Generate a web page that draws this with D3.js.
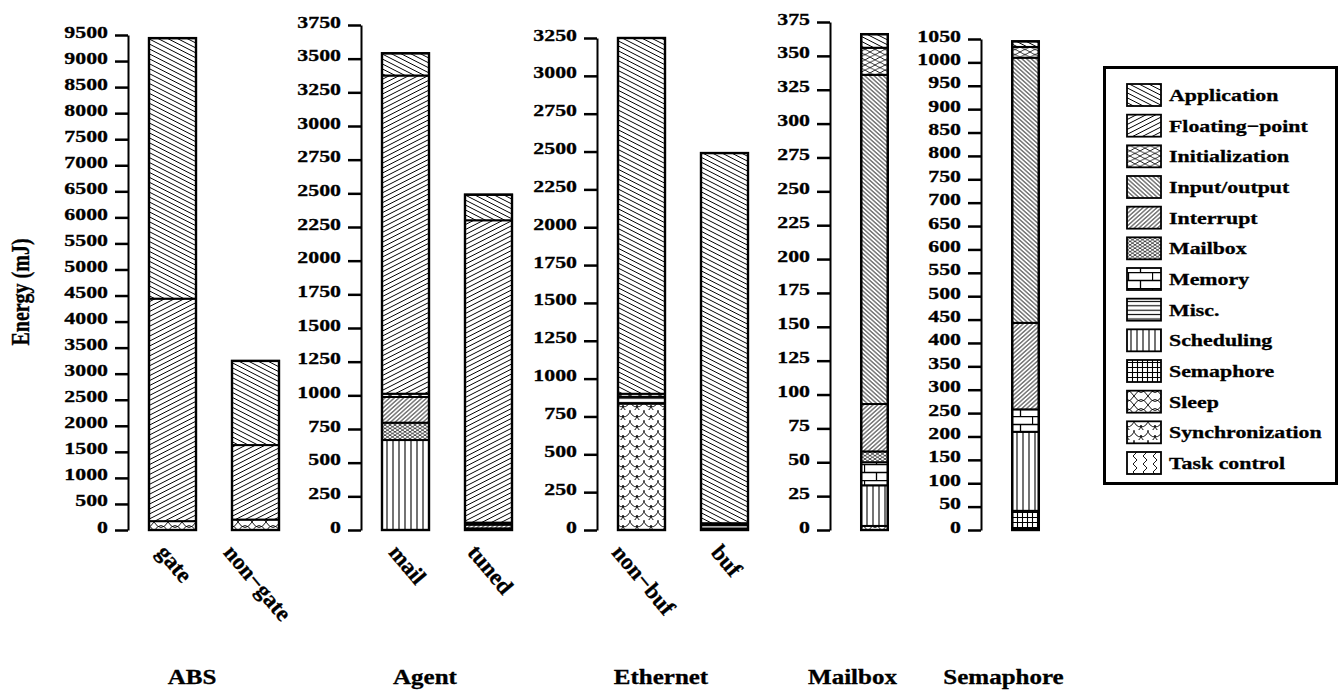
<!DOCTYPE html>
<html>
<head>
<meta charset="utf-8">
<script src="https://cdn.jsdelivr.net/npm/d3@7"></script>
<style>
  body { margin: 0; background: #fff; }
  text { font-family: "Liberation Serif", "Times New Roman", serif; font-weight: bold; fill: #000;
         stroke: #000; stroke-width: 0.3px; }
</style>
</head>
<body>
<svg id="chart" width="1339" height="692"></svg>
<script>
// Benchmarks (panels) and their tick settings.
const benchmarks = ["ABS", "Agent", "Ethernet", "Mailbox", "Semaphore"];
const tickMax = [9500, 3750, 3250, 375, 1050];
const tickStep = [500, 250, 250, 25, 50];

// Bars, in drawing order, and the panel that each one belongs to.
const runs = ["gate", "non−gate", "mail", "tuned", "non−buf", "buf", "mailbox", "semaphore"];
const runLabels = ["gate", "non−gate", "mail", "tuned", "non−buf", "buf", "", ""];
const runBenchmark = ["ABS", "ABS", "Agent", "Agent", "Ethernet", "Ethernet", "Mailbox", "Semaphore"];

// Energy components (legend order).
const components = ["Application", "Floating−point", "Initialization", "Input/output", "Interrupt",
  "Mailbox", "Memory", "Misc.", "Scheduling", "Semaphore", "Sleep", "Synchronization", "Task control"];

// Energy (mJ) of each component, one value per bar in `runs` order.
const application     = [5000, 1615, 165, 190, 2350, 2445, 10, 12];
const floatingPoint   = [4270, 1430, 2363, 2245, 0, 0, 0, 0];
const initialization  = [0, 0, 24, 15, 20, 10, 20, 23];
const inputOutput     = [0, 0, 0, 0, 0, 0, 243, 567];
const interrupt       = [0, 0, 191, 28, 0, 0, 35, 185];
const mailbox         = [0, 0, 129, 0, 0, 0, 8, 0];
const memory          = [0, 0, 0, 0, 0, 0, 17, 48];
const misc            = [0, 0, 0, 0, 45, 25, 0, 0];
const scheduling      = [0, 0, 668, 12, 0, 10, 30, 169];
const semaphore       = [0, 0, 0, 0, 0, 0, 0, 37];
const sleep           = [170, 200, 0, 0, 0, 0, 3, 4];
const synchronization = [0, 0, 0, 0, 835, 0, 0, 0];
const taskControl     = [0, 0, 0, 0, 0, 0, 0, 0];

const componentValues = [application, floatingPoint, initialization, inputOutput, interrupt,
  mailbox, memory, misc, scheduling, semaphore, sleep, synchronization, taskControl];

// layout
const baseY = 530;
const axisX = [128, 361, 597, 830, 981];
const topY = [35, 25, 38, 22, 39];
const barW = 47, barGap = 36, firstOffset = 21;
const stretch = 1.25;   // the original figure is stretched horizontally

const svg = d3.select("#chart");
const defs = svg.append("defs");

// ---- fill patterns ----
function hatch(id, angle, s, w) {
  const p = defs.append("pattern").attr("id", id)
    .attr("patternUnits", "userSpaceOnUse")
    .attr("width", s).attr("height", s)
    .attr("patternTransform", `rotate(${angle})`);
  p.append("rect").attr("width", s).attr("height", s).attr("fill", "#fff");
  p.append("line").attr("x1", 0).attr("x2", s).attr("y1", s / 2).attr("y2", s / 2)
    .attr("stroke", "#000").attr("stroke-width", w);
}
function cross(id, W, H, w) {
  const p = defs.append("pattern").attr("id", id)
    .attr("patternUnits", "userSpaceOnUse").attr("width", W).attr("height", H);
  p.append("rect").attr("width", W).attr("height", H).attr("fill", "#fff");
  p.append("path")
    .attr("d", `M${-W},${-H}L${2 * W},${2 * H}M${-W},${2 * H}L${2 * W},${-H}M0,${-H}L${2*W},${H}M${-W},0L${W},${2*H}M0,${2*H}L${2*W},0M${-W},${H}L${W},${-H}`)
    .attr("stroke", "#000").attr("stroke-width", w).attr("fill", "none");
}
function pathPattern(id, W, H, d, w) {
  const p = defs.append("pattern").attr("id", id)
    .attr("patternUnits", "userSpaceOnUse").attr("width", W).attr("height", H);
  p.append("rect").attr("width", W).attr("height", H).attr("fill", "#fff");
  p.append("path").attr("d", d).attr("stroke", "#000").attr("stroke-width", w).attr("fill", "none");
}

hatch("p0", 27, 4.4, 0.9);    // Application
hatch("p1", -27, 4.4, 0.9);   // Floating-point
cross("p2", 10, 5.2, 0.8);    // Initialization
hatch("p3", 42, 3.1, 0.8);    // Input/output
hatch("p4", -42, 3.1, 0.8);   // Interrupt
cross("p5", 5, 3.4, 0.7);     // Mailbox
pathPattern("p6", 24, 16, "M0,0.5H24M0,8.5H24M0.5,0V8.5M12.5,8.5V16", 1.3);   // Memory
pathPattern("p7", 4, 4.4, "M0,2.2H4", 1.1);                                  // Misc.
pathPattern("p8", 6, 6, "M3,0V6", 1.1);                                       // Scheduling
pathPattern("p9", 5, 5, "M2.5,0V5M0,2.5H5", 1.1);                             // Semaphore
pathPattern("p10", 14, 9, "M0,0Q7,11 14,0M0,9Q7,-2 14,9", 0.9);               // Sleep
pathPattern("p11", 14, 10, "M0,0A7,7 0 0 0 14,0M-7,5A7,7 0 0 0 7,5M7,5A7,7 0 0 0 21,5M0,10A7,7 0 0 0 14,10", 0.9); // Synchronization
pathPattern("p12", 10, 8, "M3,0L7,4L3,8", 0.9);                               // Task control

// ---- stacked data ----
const table = runs.map((r, i) => {
  const row = { run: r, bench: runBenchmark[i], label: runLabels[i] };
  components.forEach((c, j) => row[c] = componentValues[j][i]);
  return row;
});
const stackOrder = components.slice().reverse();   // bottom to top
const series = d3.stack().keys(stackOrder)(table);

function stretchText(sel, x, y) {
  sel.attr("transform", `translate(${x},${y}) scale(${stretch},1)`);
}

// ---- panels ----
benchmarks.forEach((bench, k) => {
  const panelRuns = runs.filter((r, i) => runBenchmark[i] === bench);
  const n = panelRuns.length;
  const x0 = axisX[k] + firstOffset;
  const x = d3.scaleBand()
    .domain(panelRuns)
    .range([x0, x0 + n * barW + (n - 1) * barGap])
    .paddingInner(barGap / (barW + barGap))
    .paddingOuter(0);
  const y = d3.scaleLinear().domain([0, tickMax[k]]).range([baseY, topY[k]]);

  const g = svg.append("g");

  // y axis
  const axis = d3.axisLeft(y)
    .tickValues(d3.range(0, tickMax[k] + 1, tickStep[k]))
    .tickSize(13).tickSizeOuter(0).tickFormat(d3.format("d"));
  const ax = g.append("g").attr("transform", `translate(${axisX[k]},0)`).call(axis);
  ax.select(".domain").attr("stroke-width", 2);
  ax.selectAll(".tick line").attr("stroke-width", 2.5);
  ax.selectAll(".tick text")
    .attr("x", null).attr("dy", null)
    .attr("font-size", 17.5).attr("font-family", null)
    .attr("text-anchor", "end")
    .each(function () { stretchText(d3.select(this), -20, 2); });

  // bar segments
  series.forEach((s) => {
    const pid = "p" + components.indexOf(s.key);
    g.append("g").selectAll("rect")
      .data(s.filter(d => d.data.bench === bench && d[1] - d[0] > 0))
      .join("rect")
      .attr("x", d => x(d.data.run))
      .attr("width", x.bandwidth())
      .attr("y", d => y(d[1]))
      .attr("height", d => y(d[0]) - y(d[1]))
      .attr("fill", `url(#${pid})`)
      .attr("stroke", "#000")
      .attr("stroke-width", 2);
  });

  // bar outlines
  const totals = table.filter(d => d.bench === bench);
  g.append("g").selectAll("rect")
    .data(totals)
    .join("rect")
    .attr("x", d => x(d.run))
    .attr("width", x.bandwidth())
    .attr("y", d => y(d3.sum(components, c => d[c])))
    .attr("height", d => baseY - y(d3.sum(components, c => d[c])))
    .attr("fill", "none").attr("stroke", "#000").attr("stroke-width", 2.4);

  // rotated run labels
  g.append("g").selectAll("text")
    .data(totals.filter(d => d.label))
    .join("text")
    .attr("font-size", 23)
    .attr("text-anchor", "middle")
    .attr("dy", "0.33em")
    .text(d => d.label)
    .attr("transform", function (d) {
      const L = this.getComputedTextLength();
      const a = 50 * Math.PI / 180;
      const cx = x(d.run) + x.bandwidth() / 2 + 2;
      const cy = 548 + (L / 2) * Math.sin(a);
      return `translate(${cx},${cy}) rotate(50)`;
    });

  // benchmark title
  const mid = (x.range()[0] + x.range()[1]) / 2 - 22;
  g.append("text")
    .attr("font-size", 20)
    .attr("text-anchor", "middle")
    .text(bench)
    .call(stretchText, mid, 684);
});

// y-axis title
svg.append("text")
  .attr("font-size", 20)
  .attr("text-anchor", "middle")
  .attr("transform", `translate(29,292) rotate(-90) scale(1,${stretch})`)
  .text("Energy (mJ)");

// ---- legend ----
const legend = svg.append("g");
legend.append("rect")
  .attr("x", 1104.5).attr("y", 67.5).attr("width", 232).attr("height", 416)
  .attr("fill", "#fff").attr("stroke", "#000").attr("stroke-width", 3);
const ly = d3.scalePoint().domain(components).range([95, 463]);
const items = legend.selectAll("g.item").data(components).join("g").attr("class", "item");
items.append("rect")
  .attr("x", 1127).attr("y", d => ly(d) - 11)
  .attr("width", 34).attr("height", 22)
  .attr("fill", (d, i) => `url(#p${i})`)
  .attr("stroke", "#000").attr("stroke-width", 1.8);
items.append("text")
  .attr("font-size", 17.5)
  .text(d => d)
  .each(function (d) { stretchText(d3.select(this), 1169, ly(d) + 6); });
</script>
</body>
</html>
